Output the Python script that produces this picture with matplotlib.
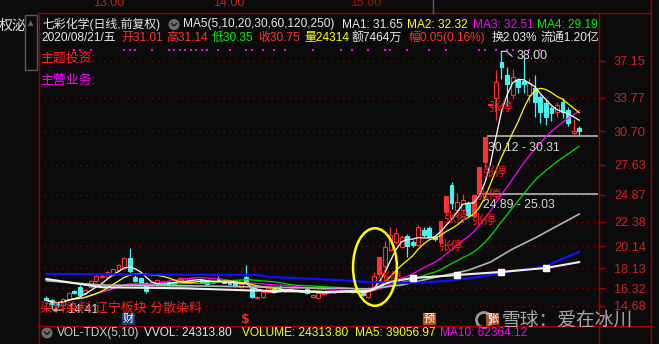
import matplotlib
matplotlib.use('Agg')
import matplotlib.pyplot as plt
import matplotlib.patches as patches
import matplotlib.transforms as mtransforms
import numpy as np
import pandas as pd

plt.rcParams['font.family'] = ['Liberation Sans', 'Noto Sans CJK SC', 'DejaVu Sans']

# 七彩化学 daily candles (前复权)
opens = [15.4, 15.2, 14.9, 14.8, 15.32, 16.05, 16.42, 15.87, 16.42, 16.97,
         17.3, 17.34, 17.52, 17.98, 18.16, 19.08, 17.34, 17.24, 16.79, 16.6,
         16.79, 16.9, 16.88, 16.85, 17.06, 17.0, 16.97, 16.97, 17.06, 16.97,
         16.8, 17.15, 16.88, 16.8, 16.79, 16.42, 17.34, 16.42, 15.41, 15.5,
         15.96, 16.2, 16.33, 16.1, 16.15, 16.15, 16.05, 16.24, 15.5, 15.41,
         15.78, 16.0, 16.05, 16.0, 16.1, 16.1, 16.3, 16.15, 15.5, 16.42,
         17.6, 18.3, 19.81, 20.54, 20.1, 21.1, 20.54, 20.27, 21.64, 21.82,
         21.0, 20.5, 23.3, 25.76, 23.47, 23.5, 24.0, 22.9, 25.03, 27.87,
         33.13, 33.73, 37.0, 35.8, 34.0, 35.38, 35.3, 34.0, 34.64, 33.8,
         33.27, 32.8, 32.45, 33.36, 32.63, 30.5, 31.01]
highs = [15.6, 15.3, 15.1, 15.4, 15.95, 16.15, 16.6, 16.2, 17.05, 17.5,
         17.6, 17.85, 18.1, 18.5, 19.15, 19.99, 17.5, 17.3, 16.9, 16.95,
         17.15, 17.0, 16.95, 16.9, 17.3, 17.25, 17.3, 17.1, 17.1, 17.0,
         17.05, 17.4, 16.95, 16.85, 16.85, 16.75, 18.43, 16.6, 15.55, 16.0,
         16.4, 16.3, 16.6, 16.2, 16.3, 16.25, 16.15, 16.3, 15.75, 15.95,
         16.05, 16.15, 16.1, 16.2, 16.15, 16.15, 16.35, 16.2, 16.4, 17.8,
         19.17, 20.6, 21.9, 21.8, 21.2, 21.3, 20.7, 22.1, 21.9, 22.0,
         21.1, 22.5, 24.75, 26.0, 25.0, 24.9, 24.3, 24.89, 27.38, 30.12,
         33.13, 36.29, 38.0, 36.6, 36.4, 35.6, 37.5, 35.6, 35.8, 34.0,
         33.6, 33.0, 33.4, 33.7, 32.9, 31.8, 31.14]
lows = [15.1, 14.41, 14.6, 14.7, 15.25, 15.8, 15.6, 15.8, 16.35, 16.9,
        17.2, 17.3, 17.45, 17.9, 18.1, 17.7, 16.9, 16.5, 15.9, 16.5,
        16.7, 16.8, 16.5, 16.6, 17.0, 16.95, 16.9, 16.9, 16.75, 16.6,
        16.75, 17.0, 16.75, 16.6, 16.45, 16.35, 16.8, 15.4, 15.35, 15.45,
        15.9, 16.1, 16.0, 16.0, 16.1, 16.05, 15.95, 15.8, 15.45, 15.3,
        15.7, 15.95, 15.9, 15.95, 15.95, 15.9, 15.9, 15.6, 15.45, 16.35,
        17.55, 18.2, 19.7, 20.4, 20.0, 19.2, 20.1, 20.2, 21.0, 20.9,
        20.6, 20.4, 23.0, 23.6, 23.3, 23.4, 22.8, 22.8, 25.03, 27.2,
        33.13, 31.7, 35.5, 33.0, 33.6, 34.2, 34.2, 33.4, 32.0, 31.4,
        31.3, 31.6, 32.0, 31.9, 31.2, 30.31, 30.35]
closes = [15.2, 14.9, 14.8, 15.32, 15.87, 15.87, 15.69, 16.14, 16.97, 17.43,
          17.45, 17.79, 18.07, 18.44, 19.08, 17.88, 16.97, 16.6, 16.05, 16.88,
          17.06, 16.92, 16.6, 16.7, 17.24, 17.2, 17.24, 16.98, 16.8, 16.7,
          16.97, 17.06, 16.8, 16.7, 16.5, 16.69, 16.88, 15.5, 15.5, 15.96,
          16.33, 16.15, 16.05, 16.1, 16.2, 16.1, 16.0, 15.87, 15.69, 15.87,
          15.96, 16.05, 16.0, 16.1, 16.05, 15.95, 15.96, 15.69, 16.33, 17.43,
          19.17, 20.1, 21.18, 21.36, 21.0, 20.2, 20.27, 21.91, 21.18, 21.0,
          20.8, 22.5, 24.75, 24.1, 24.2, 24.4, 23.0, 24.89, 27.38, 30.12,
          33.13, 35.19, 36.6, 35.0, 35.65, 34.73, 35.0, 35.1, 33.36, 32.45,
          32.0, 32.35, 33.09, 32.45, 31.45, 30.7, 30.75]

limit_up_days = [60, 71, 72, 77, 78, 79, 80]
info_mark_days = [5, 6, 8, 14, 15, 16, 19, 22, 23, 24, 25, 26, 27, 28, 29, 31, 33,
                  36, 37, 39, 41, 43, 48, 53, 55, 58, 61, 62, 65, 69, 72, 78, 79,
                  81, 83, 84, 87, 89]

# slow averages, read at key days
ma60_days = [0, 6, 10, 30, 45, 58, 64, 70, 76, 80, 84, 88, 92, 96]
ma60_vals = [17.0, 16.75, 16.6, 16.5, 16.35, 16.25, 16.6, 17.3, 17.95, 18.7,
             19.9, 20.9, 22.0, 23.1]
ma120_days = [0, 38, 40, 45, 52, 58, 66, 72, 78, 84, 90, 93, 96]
ma120_vals = [17.61, 17.52, 17.34, 17.24, 17.06, 16.88, 16.79, 16.97, 17.34,
              17.88, 18.3, 19.0, 19.63]
ma250_days = [0, 10, 25, 37, 50, 58, 62, 66, 74, 82, 90, 96]
ma250_vals = [17.15, 16.4, 16.3, 16.1, 15.96, 16.05, 16.9, 17.24, 17.52, 17.8,
              18.16, 18.7]
ma250_square_days = [66, 74, 82, 90]

price_ticks = [37.15, 33.77, 30.70, 27.63, 24.87, 22.38, 20.14, 18.13, 16.32, 14.68]
gap_low = [30.12, 24.89]
gap_high = [30.31, 25.03]
gap_start = [79.35, 78.4]

BG = '#0b0b0b'
RED = '#ff3232'
CYAN = '#48f0f0'
WHITE = '#e8e8e8'
YELLOW = '#ffff00'
MAGENTA = '#ff00ff'
GREEN = '#00ee00'
AXRED = '#a00000'

W, H = 659, 344
fig = plt.figure(figsize=(W / 100, H / 100), dpi=100, facecolor=BG)
ax = fig.add_axes([38 / W, 18 / H, 560 / W, 313 / H])
ax.set_facecolor(BG)
x0 = -(46.4 - 38) / 5.55
ax.set_xlim(x0, x0 + 560 / 5.55)
ax.set_ylim(14.68 - 20 / 10.92, 14.68 + 293 / 10.92)
for sp in ax.spines.values():
    sp.set_visible(False)
ax.tick_params(axis='x', bottom=False, labelbottom=False)
ax.yaxis.tick_right()
ax.set_yticks(price_ticks)
ax.set_yticklabels([f'{v:.2f}' for v in price_ticks])
ax.tick_params(axis='y', length=5, width=1, color=AXRED, labelcolor='#d42020',
               labelsize=9.2, pad=6.5)
for v in price_ticks:
    ax.axhline(v, color='#8a0000', lw=1.0, ls=(0, (1, 3.3)), zorder=1)

# candles
days = np.arange(len(closes))
o, h, l, c = (np.array(a) for a in (opens, highs, lows, closes))
edge, face = [], []
for i in days:
    if c[i] > o[i] or i in limit_up_days:
        edge.append(RED)
        face.append(RED if i in limit_up_days else BG)
    elif c[i] < o[i]:
        edge.append(CYAN)
        face.append(CYAN)
    else:
        edge.append(WHITE)
        face.append(WHITE)
ax.vlines(days, l, h, colors=edge, lw=0.9, zorder=3)
ax.bar(days, np.maximum(np.abs(c - o), 0.03), bottom=np.minimum(o, c), width=0.7,
       color=face, edgecolor=edge, linewidth=0.8, zorder=3)

# moving averages
cs = pd.Series(closes)
for n, col in [(30, '#00e000'), (20, MAGENTA), (10, YELLOW), (5, '#ffffff')]:
    ax.plot(days, cs.rolling(n, min_periods=1).mean(), color=col, lw=0.9, zorder=4)
ax.plot(ma60_days, ma60_vals, color='#b4b4b4', lw=1.2, zorder=4)
ax.plot(ma120_days, ma120_vals, color='#1010ff', lw=1.6, zorder=4)
ax.plot(ma250_days, ma250_vals, color='#f0f0f0', lw=1.5, zorder=4)
ax.plot(ma250_square_days, np.interp(ma250_square_days, ma250_days, ma250_vals),
        ls='none', marker='s', ms=4.5, color='#ffffff', zorder=4)

# unfilled gaps
for lo, hi, st in zip(gap_low, gap_high, gap_start):
    ax.fill_between([st, ax.get_xlim()[1]], lo, hi, color='#9a9a9a', lw=0, zorder=2)
    ax.text(st + 0.2, lo - 0.45, f'{lo:.2f} - {hi:.2f}', color='#d8d8d8', fontsize=8.8,
            va='top', ha='left', zorder=6)

# limit-up tags
for d in limit_up_days:
    ax.text(d - 0.35, lows[d] - 0.25, '张停', color='#ff2020', fontsize=9,
            family=['Noto Sans CJK SC'], va='center', ha='left', zorder=6)

# high / low labels
top = int(np.argmax(highs))
ax.plot([top, top + 0.9, top + 1.9], [highs[top], highs[top], highs[top] - 0.45],
        color='#dcdcdc', lw=0.8, zorder=6)
ax.text(top + 2.7, highs[top] - 0.45, f'{highs[top]:.2f}', color='#dcdcdc',
        fontsize=9, va='center', ha='left', zorder=6)
bot = int(np.argmin(lows))
ax.annotate(f'{lows[bot]:.2f}', xy=(bot, lows[bot] - 0.1), xytext=(bot + 2.8, lows[bot] - 0.1),
            color='#e0e0e0', fontsize=9, va='center', ha='left', zorder=7,
            arrowprops=dict(arrowstyle='-|>', color='#e0e0e0', lw=0.8,
                            mutation_scale=6, shrinkA=1, shrinkB=0))

# highlight ellipse
ax.add_patch(patches.Ellipse((59.2, 18.25), 7.9, 7.1, fill=False, ec='#ffff00',
                             lw=1.8, zorder=6))

# info markers along the top
tr = mtransforms.blended_transform_factory(ax.transData, ax.transAxes)
ax.scatter(info_mark_days, [0.882] * len(info_mark_days), s=4, marker='s',
           color=MAGENTA, transform=tr, zorder=5, linewidths=0)

# overlay in pixel coordinates for frame and header text
ov = fig.add_axes([0, 0, 1, 1], zorder=5)
ov.set_xlim(0, W)
ov.set_ylim(H, 0)
ov.axis('off')

ov.plot([38, 651], [13, 13], color=AXRED, lw=1)
ov.plot([38, 651], [326, 326], color=AXRED, lw=1)
ov.plot([38.5, 38.5], [13, H], color=AXRED, lw=1)
ov.plot([598.5, 598.5], [13, H], color=AXRED, lw=1)
ov.plot([651, 651], [0, H], color=AXRED, lw=1)
ov.plot([433, 433], [0, 13], color='#606060', lw=1)

for x, s, col in [(93, '13:00', '#c81e1e'), (213, '14:00', '#c81e1e'), (350, '15:00', '#a01010')]:
    ov.text(x, 2.5, s, color=col, fontsize=9, va='center', ha='left')

ov.text(-1, 26, '权泌', color=WHITE, fontsize=10, va='center', ha='left')
ov.add_patch(patches.Rectangle((24.5, 15), 12, 55, fc=BG, ec='#5a5a5a', lw=1, zorder=3))
ov.text(30.5, 23, '▲', color='#6a6a6a', fontsize=5, va='center', ha='center',
        family=['DejaVu Sans'], zorder=4)

FS = 8.6
row1 = [(42, '七彩化学(日线,前复权)', WHITE), (183, 'MA5(5,10,20,30,60,120,250)', WHITE),
        (342, 'MA1: 31.65', WHITE), (407, 'MA2: 32.32', YELLOW),
        (473, 'MA3: 32.51', MAGENTA), (537, 'MA4: 29.19', GREEN)]
row2 = [(41, '2020/08/21/五', WHITE), (121, '开31.01', RED), (166, '高31.14', RED),
        (212, '低30.35', GREEN), (258, '收30.75', RED), (304, '量24314', YELLOW),
        (352, '额7464万', WHITE), (408, '幅0.05(0.16%)', RED), (492, '换2.03%', WHITE),
        (541, '流通1.20亿', WHITE)]
vol_row = [(57, 'VOL-TDX(5,10)', '#d0d0d0'), (144, 'VVOL: 24313.80', WHITE),
           (242, 'VOLUME: 24313.80', YELLOW), (355, 'MA5: 39056.97', YELLOW),
           (440, 'MA10: 62364.12', MAGENTA)]
for y, row in [(24.5, row1), (38, row2), (333, vol_row)]:
    for x, s, col in row:
        ov.text(x, y, s, color=col, fontsize=FS, va='center', ha='left')
for cx, cy in [(174, 24.5), (47, 333)]:
    ov.add_patch(patches.Circle((cx, cy), 5.5, fc='#6e6e6e', ec='none'))
    ov.plot([cx - 2.5, cx, cx + 2.5], [cy - 1, cy + 1.5, cy - 1], color='#1a1a1a', lw=1)

ov.text(40, 59, '主题投资:', color='#ff2020', fontsize=9.3, va='center', ha='left')
ov.text(40, 81, '主营业务:', color=MAGENTA, fontsize=9.3, va='center', ha='left')
ov.text(40, 308.5, '染料染料 辽宁板块 分散染料', color='#ff2020', fontsize=9.3,
        va='center', ha='left', zorder=1)

# event badges below the candles
for x, s, fc in [(122, '财', '#1c3c78'), (423, '预', '#b0521c'), (486, '张', '#b0521c')]:
    ov.add_patch(patches.Rectangle((x, 313), 13, 12, fc=fc, ec='none'))
    ov.text(x + 6.5, 319, s, color='#ffffff', fontsize=8, va='center', ha='center')
ov.text(245.5, 319, '$', color='#ff2020', fontsize=9, va='center', ha='center',
        family=['DejaVu Sans'], fontweight='bold')

# watermark
ov.add_patch(patches.Circle((484, 320), 7.5, fc='none', ec='#bdbdbd', lw=2, alpha=0.8))
ov.text(502, 320, '雪球：爱在冰川', color='#cfcfcf', fontsize=13.5, va='center', ha='left',
        family=['Noto Sans CJK SC'], alpha=0.8)

fig.savefig('out.png', dpi=100, facecolor=BG)
